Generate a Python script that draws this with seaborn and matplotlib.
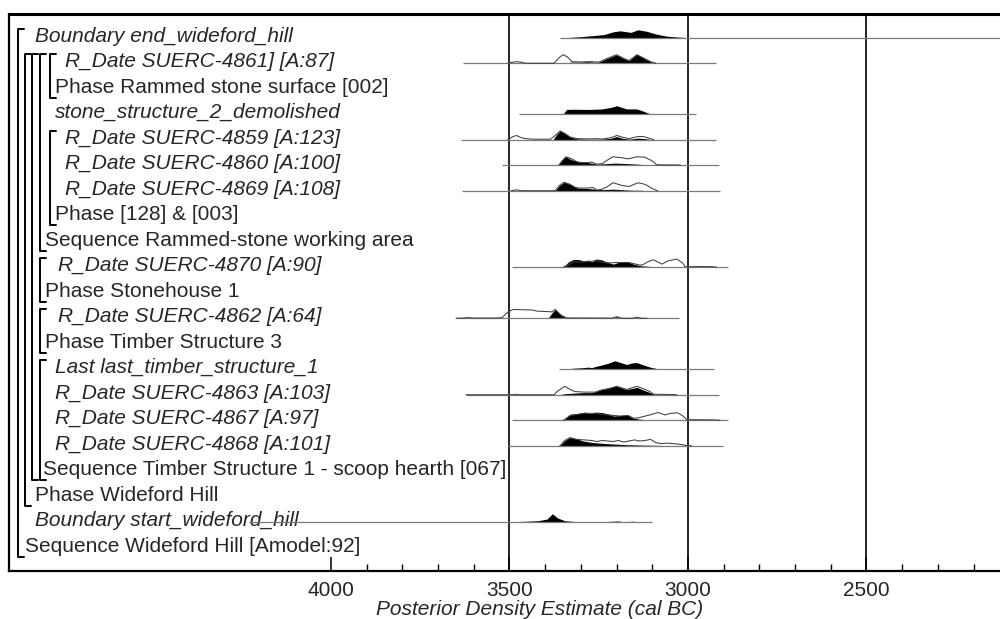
import pandas as pd
import seaborn as sns
import matplotlib.pyplot as plt
from matplotlib.transforms import blended_transform_factory

# Row labels, top to bottom
labels = [
    "Boundary end_wideford_hill",
    "R_Date SUERC-4861] [A:87]",
    "Phase Rammed stone surface [002]",
    "stone_structure_2_demolished",
    "R_Date SUERC-4859 [A:123]",
    "R_Date SUERC-4860 [A:100]",
    "R_Date SUERC-4869 [A:108]",
    "Phase [128] & [003]",
    "Sequence Rammed-stone working area",
    "R_Date SUERC-4870 [A:90]",
    "Phase Stonehouse 1",
    "R_Date SUERC-4862 [A:64]",
    "Phase Timber Structure 3",
    "Last last_timber_structure_1",
    "R_Date SUERC-4863 [A:103]",
    "R_Date SUERC-4867 [A:97]",
    "R_Date SUERC-4868 [A:101]",
    "Sequence Timber Structure 1 - scoop hearth [067]",
    "Phase Wideford Hill",
    "Boundary start_wideford_hill",
    "Sequence Wideford Hill [Amodel:92]",
]
italic = [True, True, False, True, True, True, True, False, False, True, False,
          True, False, True, True, True, True, False, False, True, False]
label_x = [35, 65, 55, 55, 65, 65, 65, 55, 45, 58, 45, 58, 45, 55, 55, 55, 55, 43, 35, 35, 25]

# Model structure brackets (pixel x, first row, last row)
bracket_x = [18, 25, 32, 40, 50, 50, 40, 40, 40]
bracket_top = [0, 1, 1, 1, 1, 4, 9, 11, 13]
bracket_bottom = [20, 18, 17, 8, 2, 7, 10, 12, 17]

# Horizontal range lines (cal BC)
range_rows = [0, 1, 3, 4, 5, 6, 9, 11, 13, 14, 15, 16, 19]
range_from = [3359, 3630, 3473, 3636, 3521, 3633, 3493, 3650, 3361, 3622, 3493, 3504, 4230]
range_to = [1900, 2922, 2978, 2922, 2913, 2910, 2888, 3025, 2927, 2913, 2888, 2902, 3100]

# Posterior (modelled) densities - year BC, height
post_end_yr = [3345, 3300, 3265, 3235, 3210, 3190, 3160, 3140, 3115, 3090, 3060, 3030, 3000]
post_end_h = [0, 1, 2, 3, 5.5, 6.5, 5, 7.5, 6, 3.5, 1.5, 0.7, 0]
post_4861_yr = [3340, 3330, 3300, 3285, 3265, 3250, 3230, 3200, 3180, 3165, 3143, 3125, 3105, 3095]
post_4861_h = [0, 1, 1, 1.5, 1, 1, 4, 8, 4.5, 2.5, 8.5, 5, 1.5, 0]
post_ss2_yr = [3350, 3340, 3320, 3280, 3240, 3215, 3200, 3186, 3172, 3144, 3126, 3107, 3100]
post_ss2_h = [0, 4.5, 4.7, 4.5, 5, 6.5, 8, 6.5, 5, 5, 3, 0.5, 0]
post_4859_yr = [3378, 3368, 3358, 3345, 3330, 3310, 3280, 3240, 3215, 3199, 3185, 3165, 3140, 3120, 3100]
post_4859_h = [0, 5, 8.3, 6, 2.5, 0.8, 0.5, 0.5, 1.5, 3, 1.5, 0.5, 1.5, 1, 0]
post_4860_yr = [3365, 3350, 3342, 3325, 3300, 3280, 3255, 3230, 3205, 3165, 3140, 3100]
post_4860_h = [0, 6, 8, 5, 3, 2.5, 1, 1.5, 2, 1.5, 1, 0]
post_4869_yr = [3372, 3360, 3347, 3330, 3310, 3280, 3260, 3240, 3210, 3185, 3160, 3140, 3100]
post_4869_h = [0, 5, 8, 6, 2.5, 2, 1.5, 1, 1.5, 1, 0.5, 0.5, 0]
post_4870_yr = [3349, 3335, 3321, 3307, 3293, 3279, 3270, 3258, 3242, 3228, 3219, 3209, 3195,
                3167, 3153, 3134, 3097, 3078]
post_4870_h = [0, 5, 7.3, 7.3, 6, 6.7, 5, 7.7, 7, 5, 4, 3, 4.5, 5, 3, 1.5, 0.5, 0]
post_4862_yr = [3392, 3381, 3372, 3358, 3339, 3330, 3215, 3199, 3185, 3155, 3143, 3130]
post_4862_h = [0, 5, 8.3, 4, 0.5, 0, 0, 1.5, 0, 0, 1, 0]
post_last_yr = [3349, 3321, 3293, 3279, 3270, 3260, 3242, 3225, 3205, 3195, 3172, 3156, 3143,
                3129, 3106, 3078]
post_last_h = [0, 1, 1.5, 2, 1.5, 2.5, 4, 5.5, 8, 7, 4.5, 6, 6.3, 4.5, 2, 0]
post_4863_yr = [3360, 3345, 3320, 3293, 3270, 3258, 3242, 3225, 3205, 3195, 3172, 3156, 3143,
                3129, 3106, 3090]
post_4863_h = [0, 1, 1.5, 2, 2, 3, 5, 6, 8, 7.5, 5, 6, 7, 5, 2, 0]
post_4867_yr = [3349, 3330, 3311, 3289, 3275, 3260, 3241, 3224, 3209, 3190, 3168, 3153, 3134,
                3107, 3079]
post_4867_h = [0, 5.7, 6.3, 7.7, 6.3, 7.7, 7.3, 6, 4, 4.5, 5, 2, 1, 0.3, 0]
post_4868_yr = [3359, 3345, 3331, 3311, 3294, 3266, 3228, 3172, 3107, 3014]
post_4868_h = [0, 5, 7.7, 6.5, 4.5, 3, 2, 1, 0.5, 0]
post_start_yr = [3560, 3500, 3450, 3420, 3395, 3380, 3365, 3345, 3320, 3250, 3210, 3195, 3180,
                 3155, 3140, 3110]
post_start_h = [0, 0.5, 1, 1.5, 3, 8, 4, 1.5, 0.8, 0.5, 1, 1.2, 0.5, 1, 0.5, 0]

# Prior (unmodelled) likelihoods - year BC, height
prior_4861_yr = [3505, 3490, 3480, 3468, 3455, 3375, 3362, 3350, 3338, 3325, 3300, 3270, 3250,
                 3230, 3200, 3180, 3165, 3143, 3125, 3105, 3090]
prior_4861_h = [0, 1, 1.5, 1, 0, 0, 5, 8, 6, 1.5, 1.2, 1.5, 1, 4, 8, 4.5, 2.5, 8, 5, 1.5, 0]
prior_4859_yr = [3505, 3490, 3480, 3468, 3455, 3430, 3385, 3372, 3358, 3345, 3330, 3310, 3280,
                 3260, 3240, 3215, 3199, 3185, 3165, 3140, 3125, 3110, 3095]
prior_4859_h = [0, 3, 4, 2, 1, 0.5, 0.5, 4, 8.3, 6, 2.5, 1, 0.8, 1, 0.7, 2, 4, 2.5, 1, 3, 3, 1.5, 0]
prior_4860_yr = [3362, 3350, 3342, 3325, 3310, 3295, 3280, 3270, 3255, 3240, 3225, 3210, 3185,
                 3168, 3143, 3120, 3100, 3088, 3060, 3030, 3020]
prior_4860_h = [0, 5, 8, 6, 3, 2.5, 2.5, 3, 1, 1.5, 5, 8, 7, 6, 8, 7.5, 4, 0.5, 0.3, 0.3, 0]
prior_4869_yr = [3495, 3480, 3465, 3372, 3360, 3347, 3330, 3315, 3300, 3280, 3265, 3255, 3240,
                 3225, 3210, 3185, 3165, 3140, 3120, 3100, 3085]
prior_4869_h = [0, 0.8, 0, 0, 5, 8, 6, 3, 2.5, 2.5, 3, 0.5, 1.5, 4, 7.5, 5, 4, 7.5, 6, 2, 0]
prior_4870_yr = [3349, 3321, 3293, 3258, 3228, 3195, 3167, 3134, 3126, 3110, 3097, 3073, 3056,
                 3031, 3015, 3008, 2990, 2960, 2930, 2920]
prior_4870_h = [0, 5, 5, 6, 4, 4.5, 4.5, 2, 2.5, 5.5, 7, 3, 6, 7.7, 4, 0.5, 0.5, 0.7, 0.5, 0]
prior_4862_yr = [3650, 3630, 3615, 3600, 3540, 3521, 3504, 3490, 3460, 3434, 3423, 3395, 3381,
                 3372, 3353, 3339, 3230, 3215, 3199, 3185, 3155, 3143, 3130, 3115]
prior_4862_h = [0, 0.2, 0.6, 0.2, 0.2, 0.5, 6, 8.3, 8, 7.7, 6.7, 6.3, 6, 8.3, 2, 0.3, 0.2, 0,
                1.5, 0, 0, 1, 0, 0]
prior_4863_yr = [3622, 3490, 3480, 3470, 3375, 3367, 3345, 3330, 3317, 3290, 3260, 3242, 3220,
                 3199, 3172, 3143, 3120, 3106, 3097, 3060, 3031]
prior_4863_h = [0, 0, 0.4, 0, 0, 3, 8, 5, 3, 2.5, 2.5, 4.5, 6, 8, 5, 8, 5, 3, 0.5, 0.3, 0]
prior_4867_yr = [3349, 3330, 3289, 3260, 3224, 3190, 3168, 3153, 3143, 3107, 3084, 3064, 3050,
                 3028, 3014, 3003, 2960, 2919, 2910]
prior_4867_h = [0, 4.5, 6.5, 6.5, 5, 4, 4.5, 2, 2, 5, 7.3, 5, 6.5, 7, 4, 0.5, 0.5, 0.3, 0]
prior_4868_yr = [3359, 3345, 3331, 3311, 3290, 3270, 3255, 3240, 3225, 3210, 3195, 3180, 3165,
                 3150, 3135, 3120, 3105, 3090, 3075, 3060, 3040, 3015, 3005, 2990]
prior_4868_h = [0, 5, 7.7, 6, 5.5, 5, 4, 5, 4.5, 4, 5, 3.5, 4.5, 5.5, 4.5, 5, 6, 3, 2, 2.5, 2,
                1, 0.3, 0]

post_rows = [0, 1, 3, 4, 5, 6, 9, 11, 13, 14, 15, 16, 19]
post_yrs = [post_end_yr, post_4861_yr, post_ss2_yr, post_4859_yr, post_4860_yr, post_4869_yr,
            post_4870_yr, post_4862_yr, post_last_yr, post_4863_yr, post_4867_yr, post_4868_yr,
            post_start_yr]
post_hs = [post_end_h, post_4861_h, post_ss2_h, post_4859_h, post_4860_h, post_4869_h,
           post_4870_h, post_4862_h, post_last_h, post_4863_h, post_4867_h, post_4868_h,
           post_start_h]
prior_rows = [1, 4, 5, 6, 9, 11, 14, 15, 16]
prior_yrs = [prior_4861_yr, prior_4859_yr, prior_4860_yr, prior_4869_yr, prior_4870_yr,
             prior_4862_yr, prior_4863_yr, prior_4867_yr, prior_4868_yr]
prior_hs = [prior_4861_h, prior_4859_h, prior_4860_h, prior_4869_h, prior_4870_h,
            prior_4862_h, prior_4863_h, prior_4867_h, prior_4868_h]

ROW_PX = 24.0       # density height scale (pixels per row unit)
BASE = 0.12         # density baseline offset (rows)
FS = 15

sns.set_theme(style="white")
plt.rcParams["font.family"] = ["Liberation Sans", "DejaVu Sans"]

fig = plt.figure(figsize=(10, 6.19), dpi=100)
ax = fig.add_axes([0.009, 1 - 571 / 619, 1.062, 557 / 619])

# Grid lines every 500 years
for g in [3500, 3000, 2500, 2000]:
    ax.axvline(g, color="black", lw=1.2, zorder=1)

# Range lines
ax.hlines([r + BASE for r in range_rows], range_from, range_to,
          color="#7a7a7a", lw=0.9, zorder=4)

# Posterior densities (filled)
for r, yr, h in zip(post_rows, post_yrs, post_hs):
    base = r + BASE
    ax.fill_between(yr, [base - v / ROW_PX for v in h], base,
                    color="black", lw=0, zorder=3)

# Prior densities (outlines)
prior_df = pd.concat([
    pd.DataFrame({"year": yr, "y": [r + BASE - v / ROW_PX for v in h], "row": r})
    for r, yr, h in zip(prior_rows, prior_yrs, prior_hs)
])
sns.lineplot(data=prior_df, x="year", y="y", units="row", estimator=None, sort=False,
             color="#404040", linewidth=0.75, ax=ax, legend=False, zorder=5)

# Labels
tr = blended_transform_factory(fig.transFigure, ax.transData)
for i, (lab, it, lx) in enumerate(zip(labels, italic, label_x)):
    ax.text(lx / 1000, i + 0.275, lab, transform=tr, fontsize=FS,
            fontstyle="italic" if it else "normal", va="baseline", ha="left", zorder=2)

# Brackets
for bx, r0, r1 in zip(bracket_x, bracket_top, bracket_bottom):
    y0, y1 = r0 - 0.24, r1 + 0.47
    ax.plot([(bx + 6) / 1000, bx / 1000, bx / 1000, (bx + 6) / 1000], [y0, y0, y1, y1],
            transform=tr, color="black", lw=1.4, clip_on=False, zorder=6)

ax.set_xlim(4902, 1927)
ax.set_ylim(21.03, -0.81)
ax.set_yticks([])
ax.set_xticks([4000, 3500, 3000, 2500])
ax.set_xticks(range(2100, 4001, 100), minor=True)
ax.tick_params(axis="x", which="major", direction="in", length=10, width=1.1,
               labelsize=FS, pad=7, bottom=True, color="black")
ax.tick_params(axis="x", which="minor", direction="in", length=5, width=1,
               bottom=True, color="black")
ax.set_xlabel("Posterior Density Estimate (cal BC)", fontsize=FS, fontstyle="italic",
              labelpad=0)
ax.set_ylabel("")

for side in ["top", "left", "bottom"]:
    ax.spines[side].set_color("black")
ax.spines["top"].set_linewidth(2.2)
ax.spines["left"].set_linewidth(1.6)
ax.spines["bottom"].set_linewidth(1.6)
ax.spines["right"].set_visible(False)

plt.savefig("out.png", dpi=100)
